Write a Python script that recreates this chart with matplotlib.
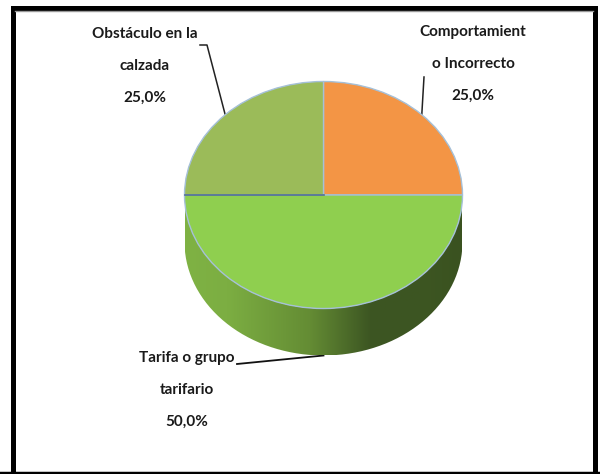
import numpy as np
import matplotlib
matplotlib.use("Agg")
import matplotlib.pyplot as plt
from matplotlib.colors import LinearSegmentedColormap
from matplotlib.patches import PathPatch, Rectangle
from matplotlib.path import Path

# Data
categories = ["Comportamient\no Incorrecto", "Obstáculo en la\ncalzada", "Tarifa o grupo\ntarifario"]
values = [25.0, 25.0, 50.0]
colors = ["#F39545", "#9BBB59", "#8FCF4F"]

W, H = 600, 474
# pie position in pixels
cx, cy, rx, ry = 323.5, 195, 139, 113.5
depth = 47

plt.rcParams["font.family"] = ["Lato", "DejaVu Sans"]

fig = plt.figure(figsize=(W / 100, H / 100), dpi=100, facecolor="white")

# pixel axes for frame, labels and leader lines
bg = fig.add_axes([0, 0, 1, 1])
bg.set_xlim(0, W)
bg.set_ylim(H, 0)
bg.axis("off")

# outer frame
bg.add_patch(Rectangle((12.5, 7.5), 582.5, 466, fill=False, ec="black", lw=3.6))
bg.plot([15, 593], [10.5, 10.5], color="#999999", lw=1)
bg.plot([0, W], [473, 473], color="black", lw=2.5)

# pie axes, stretched so that the circle becomes the tilted ellipse
# the axes also reaches down far enough to hold the side wall
dy = depth / ry
ax = fig.add_axes([(cx - rx) / W, 1 - (cy + ry + depth) / H, 2 * rx / W, (2 * ry + depth) / H])
wedges, _ = ax.pie(values, colors=colors, startangle=0, radius=1, center=(0, 0),
                   wedgeprops={"edgecolor": "#A5C0D8", "linewidth": 1.0, "zorder": 3})
ax.set_aspect("auto")

# side wall under the big slice
start = np.cumsum([0] + values)[:-1] / sum(values) * 360
th1 = np.radians(np.linspace(start[2], 360, 200))
xs = np.cos(th1)
side = np.column_stack([
    np.r_[xs, xs[::-1]],
    np.r_[np.sin(th1) - dy, np.sin(th1[::-1])],
])
clip = PathPatch(Path(np.r_[side, side[:1]]), transform=ax.transData, fc="none", ec="none")
ax.add_patch(clip)
cmap = LinearSegmentedColormap.from_list("side", [
    (0.0, "#7FB244"), (0.15, "#7CAE42"), (0.45, "#648C34"),
    (0.67, "#3C5522"), (0.85, "#3D5622"), (1.0, "#3A5220"),
])
img = ax.imshow(np.linspace(0, 1, 256).reshape(1, -1), cmap=cmap, aspect="auto",
                extent=(-1, 1, -1 - dy, 0), zorder=1)
img.set_clip_path(clip)
ax.set_xlim(-1, 1)
ax.set_ylim(-1 - dy, 1)
for w in wedges:
    w.set_clip_on(False)

# darker seam on the left part of the horizontal divider
ax.plot([-1, 0], [0, 0], color="#4F6F8F", lw=1.2, zorder=4, clip_on=False)

# labels
label_x = [473, 145, 187]
label_y = [32, 34, 358]
line_gap = 32
for name, val, lx, ly in zip(categories, values, label_x, label_y):
    lines = name.split("\n") + [f"{val:.1f}".replace(".", ",") + "%"]
    for i, t in enumerate(lines):
        bg.text(lx, ly + i * line_gap, t, ha="center", va="center",
                fontsize=11, fontweight="bold", color="#1A1A1A")

# leader lines end at the middle of each slice
mids = np.radians(start + np.array(values) / sum(values) * 180)
end_x = cx + rx * np.cos(mids)
end_y = cy - ry * np.sin(mids)
end_y[2] += depth
bg.plot([424, end_x[0]], [77, end_y[0]], color="#222222", lw=1.1)
bg.plot([200, 207, end_x[1]], [45, 45, end_y[1]], color="#222222", lw=1.1)
bg.plot([237, end_x[2]], [364, end_y[2]], color="#111111", lw=1.3)

fig.savefig("out.png", dpi=100)
